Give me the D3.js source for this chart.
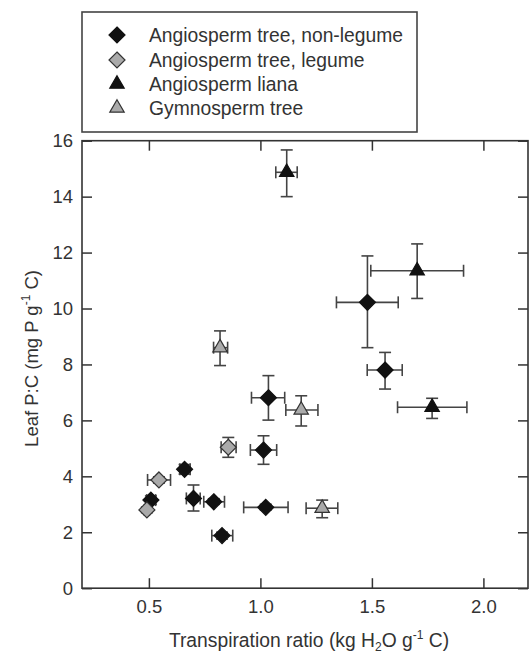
<!DOCTYPE html>
<html>
<head>
<meta charset="utf-8">
<script src="https://cdn.jsdelivr.net/npm/d3@7/dist/d3.min.js"></script>
<style>
  html, body { margin: 0; padding: 0; background: #fff; }
  svg { display: block; }
  text { font-family: "Liberation Sans", Arial, Helvetica, sans-serif; fill: #333; }
</style>
</head>
<body>
<svg id="chart" width="530" height="656"></svg>
<script>
// ---- data (x, y, x error range, y error range) ----
const nonLegume = [
  { x: 1.480, y: 10.22, xe: [1.341, 1.618], ye: [8.60, 11.88] },
  { x: 1.559, y: 7.80,  xe: [1.479, 1.636], ye: [7.12, 8.43] },
  { x: 1.036, y: 6.81,  xe: [0.960, 1.109], ye: [6.01, 7.60] },
  { x: 1.014, y: 4.94,  xe: [0.955, 1.073], ye: [4.43, 5.45] },
  { x: 0.660, y: 4.25,  xe: [0.639, 0.685], ye: [4.08, 4.42] },
  { x: 0.509, y: 3.15,  xe: [0.490, 0.530], ye: [3.00, 3.30] },
  { x: 0.700, y: 3.21,  xe: [0.668, 0.730], ye: [2.76, 3.69] },
  { x: 0.791, y: 3.09,  xe: [0.746, 0.839], ye: [3.00, 3.20] },
  { x: 1.024, y: 2.89,  xe: [0.925, 1.124], ye: [2.80, 3.00] },
  { x: 0.828, y: 1.88,  xe: [0.782, 0.876], ye: [1.76, 2.00] }
];
const legume = [
  { x: 0.856, y: 5.04, xe: [0.824, 0.891], ye: [4.68, 5.39] },
  { x: 0.545, y: 3.87, xe: [0.494, 0.597], ye: [3.76, 3.98] },
  { x: 0.491, y: 2.80, xe: [0.480, 0.502], ye: [2.70, 2.90] }
];
const liana = [
  { x: 1.118, y: 14.87, xe: [1.069, 1.165], ye: [14.00, 15.67] },
  { x: 1.703, y: 11.35, xe: [1.495, 1.911], ye: [10.36, 12.31] },
  { x: 1.770, y: 6.47,  xe: [1.615, 1.926], ye: [6.07, 6.79] }
];
const gymno = [
  { x: 0.819, y: 8.60, xe: [0.790, 0.853], ye: [7.96, 9.20] },
  { x: 1.183, y: 6.37, xe: [1.114, 1.258], ye: [5.80, 6.88] },
  { x: 1.277, y: 2.86, xe: [1.205, 1.347], ye: [2.52, 3.15] }
];
const seriesNames = ["Angiosperm tree, non-legume", "Angiosperm tree, legume", "Angiosperm liana", "Gymnosperm tree"];
const xTicks = [0.5, 1.0, 1.5, 2.0];
const yTicks = [0, 2, 4, 6, 8, 10, 12, 14, 16];
const xDomain = [0.2, 2.2];
const yDomain = [0, 16];

// ---- layout ----
const svg = d3.select("#chart");
const L = 82, R = 528, T = 140.7, B = 588.2;
const x = d3.scaleLinear().domain(xDomain).range([L, R]);
const y = d3.scaleLinear().domain(yDomain).range([B, T]);
const axisColor = "#333";
const tickLen = 10;

// axes with inward ticks
const gx = svg.append("g").attr("transform", `translate(0,${B})`)
  .call(d3.axisTop(x).tickValues(xTicks).tickSize(tickLen).tickFormat(""));
const gxl = svg.append("g").attr("transform", `translate(0,${B})`)
  .call(d3.axisBottom(x).tickValues(xTicks).tickSize(0).tickPadding(12).tickFormat(d3.format(".1f")));
const gxt = svg.append("g").attr("transform", `translate(0,${T})`)
  .call(d3.axisBottom(x).tickValues(xTicks).tickSize(tickLen).tickFormat(""));
const gy = svg.append("g").attr("transform", `translate(${L},0)`)
  .call(d3.axisRight(y).tickValues(yTicks).tickSize(tickLen).tickFormat(""));
const gyl = svg.append("g").attr("transform", `translate(${L},0)`)
  .call(d3.axisLeft(y).tickValues(yTicks).tickSize(0).tickPadding(9).tickFormat(d3.format("d")));
const gyr = svg.append("g").attr("transform", `translate(${R},0)`)
  .call(d3.axisLeft(y).tickValues(yTicks).tickSize(tickLen).tickFormat(""));

[gx, gxl, gxt, gy, gyl, gyr].forEach(g => {
  g.select(".domain").remove();
  g.selectAll(".tick line").attr("stroke", axisColor).attr("stroke-width", 1.5);
  g.selectAll(".tick text").attr("font-size", 18.5).attr("fill", "#333")
    .attr("font-family", "'Liberation Sans', Arial, sans-serif");
});

svg.append("rect").attr("x", L).attr("y", T).attr("width", R - L).attr("height", B - T)
  .attr("fill", "none").attr("stroke", axisColor).attr("stroke-width", 1.6);

// axis titles
const xt = svg.append("text").attr("x", (L + R) / 2 + 4).attr("y", 647)
  .attr("text-anchor", "middle").attr("font-size", 19.3);
xt.append("tspan").text("Transpiration ratio (kg H");
xt.append("tspan").text("2").attr("font-size", 12).attr("dy", 4);
xt.append("tspan").text("O g").attr("dy", -4);
xt.append("tspan").text("-1").attr("font-size", 12).attr("dy", -8);
xt.append("tspan").text(" C)").attr("dy", 8);

const yt = svg.append("text").attr("transform", `translate(38,${(T + B) / 2 - 6}) rotate(-90)`)
  .attr("text-anchor", "middle").attr("font-size", 18.5);
yt.append("tspan").text("Leaf P:C (mg P g");
yt.append("tspan").text("-1").attr("font-size", 12).attr("dy", -8);
yt.append("tspan").text(" C)").attr("dy", 8);

// markers
const diamondPath = r => `M0,${-r}L${r},0L0,${r}L${-r},0Z`;
const triPath = d3.symbol().type(d3.symbolTriangle).size(90)();
const styles = [
  { data: nonLegume, path: diamondPath(8), fill: "#111", stroke: "#111" },
  { data: legume,    path: diamondPath(8), fill: "#aaa", stroke: "#333" },
  { data: liana,     path: triPath,        fill: "#111", stroke: "#111" },
  { data: gymno,     path: triPath,        fill: "#aaa", stroke: "#333" }
];

const errColor = "#444", cap = 6;
const eg = svg.append("g");
styles.forEach(s => {
  s.data.forEach(d => {
    eg.append("line").attr("x1", x(d.xe[0])).attr("x2", x(d.xe[1]))
      .attr("y1", y(d.y)).attr("y2", y(d.y)).attr("stroke", errColor).attr("stroke-width", 1.6);
    d.xe.forEach(v => eg.append("line").attr("x1", x(v)).attr("x2", x(v))
      .attr("y1", y(d.y) - cap).attr("y2", y(d.y) + cap).attr("stroke", errColor).attr("stroke-width", 1.6));
    eg.append("line").attr("x1", x(d.x)).attr("x2", x(d.x))
      .attr("y1", y(d.ye[0])).attr("y2", y(d.ye[1])).attr("stroke", errColor).attr("stroke-width", 1.6);
    d.ye.forEach(v => eg.append("line").attr("y1", y(v)).attr("y2", y(v))
      .attr("x1", x(d.x) - cap).attr("x2", x(d.x) + cap).attr("stroke", errColor).attr("stroke-width", 1.6));
  });
});
const mg = svg.append("g");
styles.forEach(s => {
  mg.selectAll(null).data(s.data).enter().append("path")
    .attr("d", s.path)
    .attr("transform", d => `translate(${x(d.x)},${y(d.y)})`)
    .attr("fill", s.fill).attr("stroke", s.stroke).attr("stroke-width", 1.2);
});

// legend
const lg = svg.append("g");
lg.append("rect").attr("x", 82).attr("y", 12).attr("width", 335).attr("height", 120)
  .attr("fill", "#fff").attr("stroke", "#444").attr("stroke-width", 1.6);
const rowY = [35, 60, 84, 108];
styles.forEach((s, i) => {
  lg.append("path").attr("d", s.path).attr("transform", `translate(117,${rowY[i]})`)
    .attr("fill", s.fill).attr("stroke", s.stroke).attr("stroke-width", 1.2);
  lg.append("text").attr("x", 149).attr("y", rowY[i]).attr("dy", "0.35em")
    .attr("font-size", 19.3).text(seriesNames[i]);
});
</script>
</body>
</html>
